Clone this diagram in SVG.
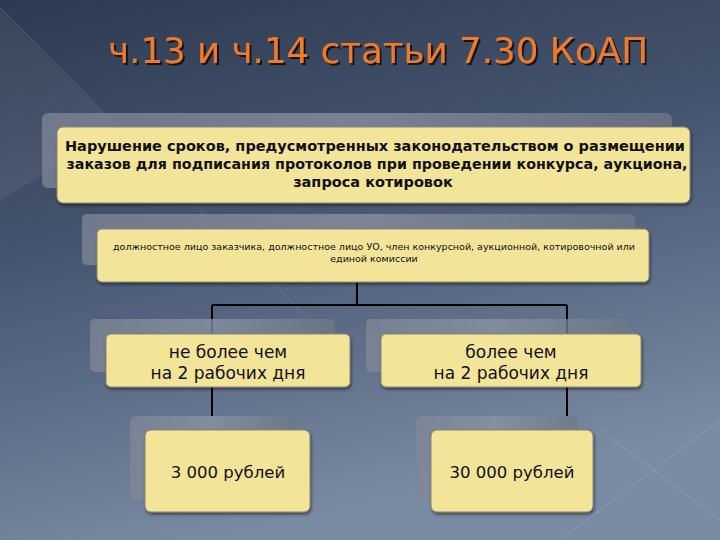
<svg xmlns="http://www.w3.org/2000/svg" width="720" height="540" viewBox="0 0 720 540">
<defs>
<linearGradient id="bg" x1="0" y1="0" x2="0.3" y2="1">
<stop offset="0" stop-color="#2d3a51"/>
<stop offset="0.45" stop-color="#46556f"/>
<stop offset="1" stop-color="#7a8aa3"/>
</linearGradient>
<linearGradient id="back" x1="0" y1="0" x2="1" y2="0">
<stop offset="0" stop-color="#7f8797"/>
<stop offset="0.5" stop-color="#8b93a3"/>
<stop offset="1" stop-color="#6f7788"/>
</linearGradient>
<filter id="sh" x="-10%" y="-10%" width="120%" height="130%">
<feDropShadow dx="1" dy="2" stdDeviation="1.5" flood-color="#000" flood-opacity="0.5"/>
</filter>
<filter id="tsh" x="-5%" y="-20%" width="110%" height="150%">
<feDropShadow dx="2" dy="2" stdDeviation="0.6" flood-color="#111" flood-opacity="0.9"/>
</filter>
</defs>
<style>
.back{fill:url(#back);opacity:0.75}
.box{fill:#f2e498;stroke:#8a8470;stroke-width:1;filter:url(#sh)}
.t{font-family:"DejaVu Sans",sans-serif;fill:#111;text-anchor:middle}
.c{stroke:#000;stroke-width:2;fill:none}
</style>
<rect width="720" height="540" fill="url(#bg)"/>
<polygon points="0,0 0,10 120,130 0,200" fill="#ffffff" opacity="0.06"/>
<line x1="0" y1="8" x2="320" y2="330" stroke="#8f9db3" stroke-width="1" opacity="0.35"/>
<line x1="560" y1="540" x2="720" y2="420" stroke="#a8b4c8" stroke-width="1" opacity="0.4"/>
<line x1="600" y1="430" x2="720" y2="520" stroke="#a8b4c8" stroke-width="1" opacity="0.4"/>
<text x="378" y="63" font-family="DejaVu Sans,sans-serif" font-size="35" fill="#f07a28" text-anchor="middle" textLength="540" lengthAdjust="spacingAndGlyphs" filter="url(#tsh)">ч.13 и ч.14 статьи 7.30 КоАП</text>
<g id="connectors">
<path class="c" d="M357,282 V305 M212,305 H567 M212,305 V334 M567,305 V334 M212,387 V416 M567,387 V416"/>
</g>
<g id="n1">
<rect class="back" x="42" y="113" width="630" height="75" rx="6"/>
<rect class="box" x="57" y="127" width="633" height="76" rx="6"/>
<text class="t" font-size="14.5" font-weight="bold"><tspan x="375" y="151" textLength="620" lengthAdjust="spacingAndGlyphs">Нарушение сроков, предусмотренных законодательством о размещении</tspan><tspan x="377" y="169" textLength="621" lengthAdjust="spacingAndGlyphs">заказов для подписания протоколов при проведении конкурса, аукциона,</tspan><tspan x="373" y="187">запроса котировок</tspan></text>
</g>
<g id="n2">
<rect class="back" x="82" y="214" width="553" height="51" rx="5"/>
<rect class="box" x="97" y="229" width="552" height="53" rx="5"/>
<text class="t" font-size="9.5"><tspan x="374" y="250" textLength="522" lengthAdjust="spacingAndGlyphs">должностное лицо заказчика, должностное лицо УО, член конкурсной, аукционной, котировочной или</tspan><tspan x="374" y="262">единой комиссии</tspan></text>
</g>
<g id="n3">
<rect class="back" x="90" y="319" width="245" height="53" rx="5"/>
<rect class="box" x="106" y="334" width="244" height="53" rx="5"/>
<text class="t" font-size="17"><tspan x="228" y="358">не более чем</tspan><tspan x="228" y="379">на 2 рабочих дня</tspan></text>
</g>
<g id="n4">
<rect class="back" x="366" y="319" width="262" height="53" rx="5"/>
<rect class="box" x="381" y="334" width="260" height="53" rx="5"/>
<text class="t" font-size="17"><tspan x="511" y="358">более чем</tspan><tspan x="511" y="379">на 2 рабочих дня</tspan></text>
</g>
<g id="n5">
<rect class="back" x="130" y="416" width="165" height="84" rx="6"/>
<rect class="box" x="145" y="430" width="165" height="82" rx="6"/>
<text class="t" font-size="16.5" x="228" y="478">3 000 рублей</text>
</g>
<g id="n6">
<rect class="back" x="416" y="416" width="162" height="84" rx="6"/>
<rect class="box" x="431" y="430" width="162" height="82" rx="6"/>
<text class="t" font-size="16.5" x="512" y="478">30 000 рублей</text>
</g>
</svg>
